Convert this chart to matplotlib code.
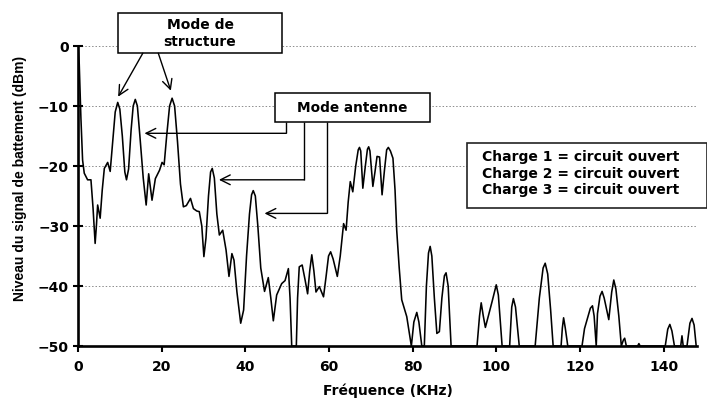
import matplotlib
matplotlib.use("Agg")
import matplotlib.pyplot as plt
from matplotlib.patches import Rectangle

plt.rcParams['font.family'] = ['DejaVu Sans']
plt.rcParams['font.weight'] = 'bold'

# Beat-signal spectrum: frequency (kHz) and level (dBm); values under -50 sit on the floor
freq_khz = [
    0.0, 0.3, 0.7, 1.1, 1.5, 2.3, 3.1, 3.6, 4.1, 4.4, 4.7, 5.3, 5.8, 6.3, 7.1, 7.7,
    8.3, 8.9, 9.5, 10.0, 10.6, 11.2, 11.6, 12.1, 12.7, 13.2, 13.7, 14.2, 14.8, 15.6,
    16.3, 16.9, 17.7, 18.5, 19.5, 20.1, 20.6, 21.2, 21.9, 22.5, 23.1, 23.8, 24.5,
    25.2, 25.9, 26.9, 27.6, 28.4, 29.0, 29.6, 30.1, 30.6, 31.2, 31.7, 32.1, 32.6,
    33.2, 33.8, 34.6, 35.4, 36.1, 36.8, 37.3, 38.0, 38.9, 39.6, 40.3, 41.0, 41.5,
    41.9, 42.4, 43.0, 43.7, 44.6, 45.5, 46.1, 46.7, 47.5, 48.7, 49.5, 50.3, 50.7,
    51.1, 52.2, 52.5, 52.9, 53.6, 54.3, 54.9, 55.4, 55.9, 56.4, 56.9, 57.7, 58.7,
    59.3, 59.9, 60.4, 61.0, 62.0, 62.7, 63.5, 64.1, 64.6, 65.1, 65.7, 66.4, 67.0,
    67.3, 67.6, 68.1, 68.7, 69.2, 69.5, 69.8, 70.5, 71.0, 71.5, 72.1, 72.7, 73.3,
    73.8, 74.2, 74.7, 75.3, 75.8, 76.2, 76.8, 77.4, 78.6, 79.7, 80.3, 81.0, 81.5,
    82.2, 82.8, 83.3, 83.8, 84.2, 84.6, 85.2, 85.8, 86.4, 87.0, 87.6, 88.0, 88.5,
    89.2, 95.4, 96.0, 96.4, 96.9, 97.4, 99.0, 100.0, 100.5, 101.4, 103.2, 103.7,
    104.1, 104.6, 105.5, 109.3, 110.3, 111.2, 111.7, 112.3, 113.0, 113.6, 115.5,
    115.8, 116.1, 116.5, 117.1, 120.5, 121.1, 122.5, 123.0, 123.4, 123.9, 124.2,
    124.8, 125.3, 125.8, 126.9, 127.6, 128.1, 128.6, 129.3, 129.9, 130.4, 130.7,
    131.1, 133.8, 134.1, 134.4, 140.4, 141.0, 141.5, 142.0, 142.6, 144.1, 144.4,
    144.7, 145.6, 146.3, 146.8, 147.3, 147.8,
]
level_dbm = [
    0.0, -3.0, -12.0, -19.0, -21.2, -22.3, -22.3, -27.0, -32.9, -30.0, -26.5, -28.7,
    -24.0, -20.4, -19.4, -20.9, -16.0, -11.0, -9.4, -10.5, -15.0, -21.0, -22.3,
    -20.5, -14.0, -10.0, -8.9, -10.0, -15.0, -22.0, -26.5, -21.3, -25.7, -22.1,
    -20.7, -19.4, -19.8, -15.0, -10.0, -8.7, -10.0, -16.0, -23.0, -26.8, -26.6,
    -25.4, -27.1, -27.5, -27.6, -30.0, -35.1, -32.0, -25.0, -21.0, -20.4, -22.0,
    -28.0, -31.5, -30.7, -34.0, -38.4, -34.6, -35.7, -41.0, -46.2, -44.0, -35.0,
    -28.0, -24.8, -24.1, -25.0, -30.0, -37.0, -40.9, -38.6, -42.0, -45.8, -41.5,
    -39.6, -39.1, -37.1, -42.0, -50.0, -50.0, -42.0, -36.8, -36.5, -39.0, -41.3,
    -37.5, -34.8, -37.5, -41.0, -40.1, -41.8, -38.5, -35.0, -34.3, -35.5, -38.4,
    -35.0, -29.6, -30.7, -26.0, -22.6, -24.3, -20.0, -17.3, -16.9, -17.5, -23.7,
    -20.0, -17.2, -16.8, -17.5, -23.4, -21.0, -18.4, -18.5, -24.8, -20.5, -17.3,
    -16.9, -17.5, -18.7, -24.0, -30.7, -37.0, -42.3, -45.1, -50.0, -46.0, -44.4,
    -46.0, -50.0, -50.0, -40.0, -34.5, -33.4, -35.0, -42.0, -47.9, -47.6, -42.0,
    -38.3, -37.8, -40.0, -50.0, -50.0, -45.0, -42.8, -45.0, -46.9, -42.6, -39.8,
    -41.5, -50.0, -50.0, -43.5, -42.1, -43.5, -50.0, -50.0, -42.0, -37.0, -36.2,
    -38.0, -44.0, -50.0, -50.0, -47.0, -45.3, -47.0, -50.0, -50.0, -47.1, -43.7,
    -43.3, -45.0, -50.0, -44.6, -41.7, -40.9, -42.0, -45.6, -41.0, -39.0, -40.5,
    -45.0, -50.0, -49.0, -48.7, -50.0, -50.0, -49.6, -50.0, -50.0, -47.2, -46.4,
    -47.5, -50.0, -50.0, -48.3, -50.0, -50.0, -46.2, -45.4, -46.5, -50.0,
]

x_ticks = [0, 20, 40, 60, 80, 100, 120, 140]
y_ticks = [-50, -40, -30, -20, -10, 0]
x_label = "Fréquence (KHz)"
y_label = "Niveau du signal de battement (dBm)"
structure_label = "Mode de\nstructure"
antenna_label = "Mode antenne"
load_lines = ["Charge 1 = circuit ouvert",
              "Charge 2 = circuit ouvert",
              "Charge 3 = circuit ouvert"]

fig = plt.figure(figsize=(7.07, 3.99), dpi=100)
ax = fig.add_axes([0.1103, 0.1328, 0.8756, 0.7519])

for yv in y_ticks[1:]:
    ax.axhline(yv, color='#8c8c8c', lw=0.7, ls=(0, (1.5, 2.0)), zorder=1)

ax.plot(freq_khz, level_dbm, color='black', lw=1.15, zorder=2)

ax.set_xlim(0, 148)
ax.set_ylim(-50, 0)
ax.set_xticks(x_ticks)
ax.set_yticks(y_ticks)
ax.tick_params(axis='x', direction='out', length=4, width=1.5, labelsize=10, pad=6)
ax.tick_params(axis='y', direction='inout', length=7, width=1.5, labelsize=10, pad=3)
for lab in ax.get_xticklabels() + ax.get_yticklabels():
    lab.set_fontweight('bold')
for side in ('top', 'right'):
    ax.spines[side].set_visible(False)
for side in ('left', 'bottom'):
    ax.spines[side].set_linewidth(1.9)
    ax.spines[side].set_zorder(3)

ax.set_xlabel(x_label, fontsize=10, fontweight='bold', labelpad=7)
ax.set_ylabel(y_label, fontsize=10, fontweight='bold',
              family=['Liberation Sans', 'DejaVu Sans'])
ax.yaxis.set_label_coords(-0.082, 0.56)

# "Mode de structure" callout above the plot area
ax.add_patch(Rectangle((9.6, -1.2), 39.2, 6.7, facecolor='white', edgecolor='black',
                       lw=1.1, clip_on=False, zorder=5))
ax.text(29.2, 2.1, structure_label, ha='center', va='center', fontsize=10,
        fontweight='bold', linespacing=1.2, zorder=6, clip_on=False)
arrow_kw = dict(arrowstyle='->,head_length=0.7,head_width=0.35', color='black', lw=1.0,
                shrinkA=0, shrinkB=0)
ax.annotate('', xy=(9.6, -8.45), xytext=(15.5, -1.2), arrowprops=arrow_kw,
            annotation_clip=False, zorder=5)
ax.annotate('', xy=(22.2, -7.45), xytext=(19.2, -1.2), arrowprops=arrow_kw,
            annotation_clip=False, zorder=5)

# "Mode antenne" callout with elbow leaders
ax.add_patch(Rectangle((47.1, -12.6), 37.1, 4.7, facecolor='white', edgecolor='black',
                       lw=1.1, zorder=5))
ax.text(65.6, -10.25, antenna_label, ha='center', va='center', fontsize=9.8,
        fontweight='bold', zorder=6)
for x_leg, y_corner, x_tip in [(49.8, -14.55, 15.9), (54.1, -22.3, 33.7), (59.6, -27.9, 44.6)]:
    ax.plot([x_leg, x_leg], [-12.6, y_corner], color='black', lw=1.0, zorder=4,
            solid_capstyle='butt')
    ax.annotate('', xy=(x_tip, y_corner), xytext=(x_leg, y_corner), arrowprops=arrow_kw,
                zorder=4)

# Load conditions box
ax.add_patch(Rectangle((93.0, -27.05), 57.5, 10.95, facecolor='white', edgecolor='#222222',
                       lw=1.2, clip_on=False, zorder=5))
for i, line in enumerate(load_lines):
    ax.text(96.6, -18.5 - 2.78 * i, line, ha='left', va='center', fontsize=10,
            fontweight='bold', zorder=6, clip_on=False)

fig.savefig('out.png', dpi=100)
